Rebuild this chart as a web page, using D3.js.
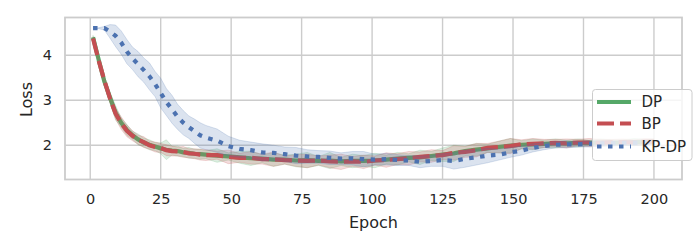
<!DOCTYPE html>
<html lang="en">
<head>
    <meta charset="UTF-8">
    <script src="https://d3js.org/d3.v7.min.js"></script>
    <title>loss</title>
    <style>
      body { margin: 0; background: #fff; }
      text { font-family: "DejaVu Sans", sans-serif; fill: #262626; }
    </style>
</head>
<body>
  <div id="chart"></div>
  <script>

    var epochs = [1,3,5,7,9,11,13,15,17,19,21,23,25,27,29,31,33,35,37,39,
      41,45,49,53,57,61,65,69,73,77,81,85,89,93,97,101,105,109,113,117,
      121,125,129,133,137,141,145,149,153,157,161,165,169,173,177,181,185,189,193,197,200];

    var dpMean = [4.40,3.90,3.42,3.06,2.72,2.50,2.34,2.22,2.13,2.06,2.01,1.97,1.93,1.90,1.88,1.87,1.84,1.83,1.81,1.80,
      1.79,1.77,1.75,1.73,1.71,1.70,1.68,1.68,1.66,1.67,1.65,1.66,1.64,1.65,1.65,1.66,1.68,1.70,1.72,1.73,
      1.76,1.79,1.82,1.87,1.90,1.93,1.96,1.99,2.01,2.02,2.03,2.04,2.04,2.05,2.05,2.06,2.05,2.06,2.07,2.07,2.08];
    var dpSd = [0.04,0.06,0.08,0.12,0.16,0.10,0.12,0.09,0.12,0.10,0.11,0.09,0.12,0.22,0.10,0.11,0.09,0.12,0.10,0.11,
      0.09,0.15,0.08,0.13,0.16,0.09,0.15,0.10,0.14,0.17,0.10,0.18,0.09,0.15,0.12,0.16,0.10,0.14,0.09,0.16,
      0.10,0.15,0.18,0.11,0.14,0.09,0.13,0.16,0.09,0.12,0.08,0.10,0.07,0.09,0.06,0.08,0.07,0.06,0.08,0.06,0.06];

    var bpMean = [4.37,3.88,3.44,3.04,2.70,2.49,2.32,2.21,2.12,2.07,2.00,1.96,1.94,1.89,1.87,1.86,1.85,1.82,1.81,1.79,
      1.78,1.78,1.74,1.72,1.72,1.69,1.69,1.67,1.66,1.65,1.66,1.64,1.63,1.64,1.63,1.66,1.67,1.69,1.71,1.74,
      1.76,1.78,1.83,1.85,1.89,1.94,1.96,1.98,2.02,2.03,2.04,2.05,2.04,2.06,2.06,2.05,2.07,2.07,2.06,2.08,2.08];
    var bpSd = [0.04,0.07,0.09,0.10,0.12,0.14,0.13,0.11,0.10,0.12,0.09,0.11,0.10,0.12,0.11,0.10,0.12,0.10,0.11,0.12,
      0.12,0.09,0.15,0.10,0.14,0.11,0.16,0.09,0.13,0.15,0.10,0.14,0.17,0.11,0.15,0.10,0.16,0.12,0.15,0.11,
      0.14,0.10,0.16,0.12,0.15,0.10,0.13,0.17,0.10,0.12,0.09,0.08,0.10,0.07,0.09,0.08,0.06,0.07,0.06,0.07,0.06];

    var kpMean = [4.60,4.60,4.60,4.53,4.43,4.28,4.08,3.93,3.80,3.67,3.53,3.36,3.16,2.96,2.80,2.63,2.50,2.40,2.31,2.22,
      2.17,2.10,1.98,1.92,1.89,1.84,1.83,1.80,1.77,1.75,1.74,1.72,1.70,1.71,1.69,1.68,1.69,1.67,1.66,1.63,
      1.65,1.67,1.65,1.70,1.73,1.77,1.79,1.84,1.88,1.94,1.98,2.01,2.02,2.02,2.03,2.04,2.04,2.05,2.05,2.06,2.06];
    var kpSd = [0.00,0.01,0.04,0.15,0.24,0.26,0.27,0.25,0.28,0.27,0.30,0.28,0.33,0.30,0.31,0.28,0.27,0.25,0.27,0.28,
      0.27,0.26,0.22,0.19,0.18,0.19,0.17,0.16,0.18,0.15,0.14,0.15,0.13,0.15,0.17,0.12,0.13,0.12,0.11,0.13,
      0.12,0.14,0.18,0.19,0.17,0.16,0.12,0.11,0.10,0.09,0.08,0.07,0.08,0.06,0.07,0.06,0.06,0.05,0.06,0.05,0.05];

    var seriesNames = ["DP", "BP", "KP-DP"];
    var xTicks = [0, 25, 50, 75, 100, 125, 150, 175, 200];
    var yTicks = [2, 3, 4];

    var series = [
      {name: seriesNames[0], mean: dpMean, sd: dpSd, color: "#55a868", dash: null},
      {name: seriesNames[1], mean: bpMean, sd: bpSd, color: "#c44e52", dash: "17,6"},
      {name: seriesNames[2], mean: kpMean, sd: kpSd, color: "#4c72b0", dash: "4.5,6.5"}
    ];

    var width = 700, height = 250;
    var pLeft = 65, pRight = 682, pTop = 17.5, pBottom = 179.5;

    var svg = d3.select("#chart").append("svg")
        .attr("width", width)
        .attr("height", height);

    var x = d3.scaleLinear().domain([-8.95, 209.95]).range([pLeft, pRight]);
    var y = d3.scaleLinear().domain([1.238, 4.838]).range([pBottom, pTop]);

    // grid
    svg.append("g").selectAll("line").data(xTicks).enter().append("line")
        .attr("x1", d => x(d)).attr("x2", d => x(d))
        .attr("y1", pTop).attr("y2", pBottom)
        .attr("stroke", "#cccccc").attr("stroke-width", 1.4);
    svg.append("g").selectAll("line").data(yTicks).enter().append("line")
        .attr("x1", pLeft).attr("x2", pRight)
        .attr("y1", d => y(d)).attr("y2", d => y(d))
        .attr("stroke", "#cccccc").attr("stroke-width", 1.4);

    svg.append("clipPath").attr("id", "clip")
      .append("rect").attr("x", pLeft).attr("y", pTop)
        .attr("width", pRight - pLeft).attr("height", pBottom - pTop);

    var plot = svg.append("g").attr("clip-path", "url(#clip)");

    series.forEach(function(s) {
        var area = d3.area()
            .x((d, i) => x(epochs[i]))
            .y0((d, i) => y(s.mean[i] - s.sd[i]))
            .y1((d, i) => y(s.mean[i] + s.sd[i]));
        var line = d3.line()
            .x((d, i) => x(epochs[i]))
            .y((d, i) => y(s.mean[i]));

        plot.append("path").datum(s.mean)
            .attr("d", area)
            .attr("fill", s.color).attr("fill-opacity", 0.2)
            .attr("stroke", s.color).attr("stroke-opacity", 0.2).attr("stroke-width", 1);
        plot.append("path").datum(s.mean)
            .attr("d", line)
            .attr("fill", "none")
            .attr("stroke", s.color)
            .attr("stroke-width", 4.2)
            .attr("stroke-dasharray", s.dash);
    });

    // axes
    var xAxis = svg.append("g")
        .attr("transform", "translate(0," + pBottom + ")")
        .call(d3.axisBottom(x).tickValues(xTicks).tickSize(0).tickPadding(14));
    var yAxis = svg.append("g")
        .attr("transform", "translate(" + pLeft + ",0)")
        .call(d3.axisLeft(y).tickValues(yTicks).tickFormat(d3.format("d")).tickSize(0).tickPadding(13));
    [xAxis, yAxis].forEach(function(a) {
        a.select(".domain").remove();
        a.selectAll("text").attr("font-size", 14.5).attr("fill", "#262626")
            .attr("font-family", '"DejaVu Sans", sans-serif');
    });

    svg.append("rect")
        .attr("x", pLeft).attr("y", pTop)
        .attr("width", pRight - pLeft).attr("height", pBottom - pTop)
        .attr("fill", "none").attr("stroke", "#cccccc").attr("stroke-width", 1.8);

    svg.append("text")
        .attr("x", (pLeft + pRight) / 2).attr("y", 228)
        .attr("text-anchor", "middle").attr("font-size", 16)
        .text("Epoch");
    svg.append("text")
        .attr("transform", "translate(32," + ((pTop + pBottom) / 2 + 1) + ") rotate(-90)")
        .attr("text-anchor", "middle").attr("font-size", 16)
        .text("Loss");

    // legend
    var legend = svg.append("g");
    legend.append("rect")
        .attr("x", 592.5).attr("y", 89.5).attr("width", 99.5).attr("height", 71)
        .attr("rx", 3)
        .attr("fill", "#ffffff").attr("fill-opacity", 0.8)
        .attr("stroke", "#cccccc").attr("stroke-width", 1);
    var rowsY = [102, 123.5, 146.5];
    var items = legend.selectAll("g.item").data(series).enter().append("g")
        .attr("class", "item")
        .attr("transform", (d, i) => "translate(0," + rowsY[i] + ")");
    items.append("line")
        .attr("x1", 597).attr("x2", 631)
        .attr("stroke", d => d.color)
        .attr("stroke-width", 4.2)
        .attr("stroke-dasharray", d => d.dash);
    items.append("text")
        .attr("x", 641.5).attr("dy", "0.36em")
        .attr("font-size", 15)
        .text(d => d.name);

  </script>
</body>
</html>
